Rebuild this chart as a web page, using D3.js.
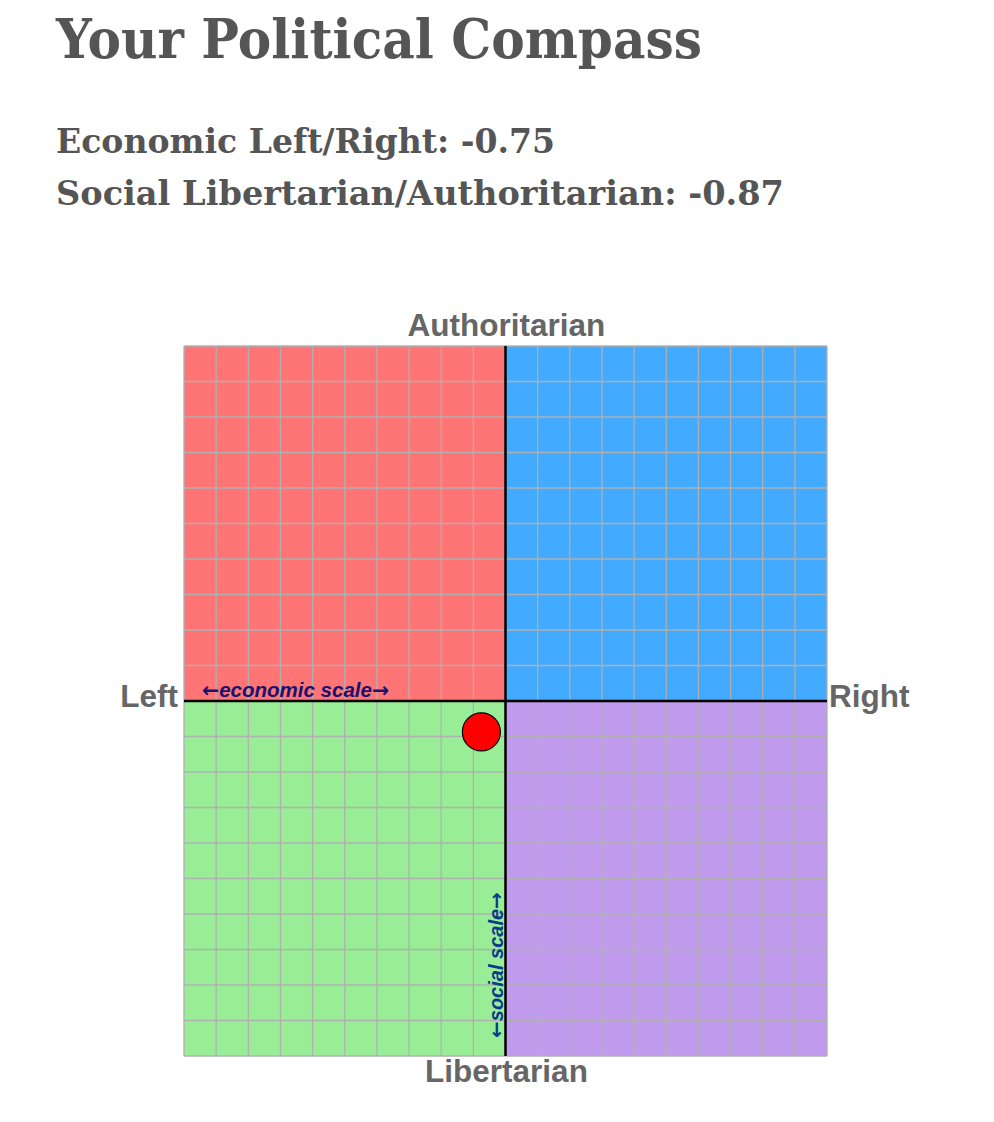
<!DOCTYPE html>
<html><head><meta charset="utf-8">
<script src="https://cdn.jsdelivr.net/npm/d3@7"></script>
<style>body{margin:0;background:#fff}</style>
</head><body>
<svg id="c" width="994" height="1122"></svg>
<script>
const title = "Your Political Compass";
const economicScore = -0.75;
const socialScore = -0.87;
const scoreLabels = ["Economic Left/Right: ", "Social Libertarian/Authoritarian: "];
const scoreValues = [economicScore, socialScore];
const quadrants = [
  {x0:-10, x1:0, y0:0, y1:10, color:"#ff7575"},
  {x0:0, x1:10, y0:0, y1:10, color:"#42aaff"},
  {x0:-10, x1:0, y0:-10, y1:0, color:"#9aed97"},
  {x0:0, x1:10, y0:-10, y1:0, color:"#c09aec"}
];
const gridTicks = d3.range(-10, 11, 1);
const axisLabels = {top:"Authoritarian", bottom:"Libertarian", left:"Left", right:"Right"};

const svg = d3.select("#c");
const x = d3.scaleLinear().domain([-10,10]).range([184,827]);
const y = d3.scaleLinear().domain([-10,10]).range([1056,346]);
const serif = "'DejaVu Serif','Liberation Serif',serif";
const sans = "'Liberation Sans',Arial,sans-serif";

svg.append("text").attr("x",56).attr("y",58)
  .attr("font-family",serif).attr("font-weight","bold")
  .attr("font-size",54).attr("fill","#555")
  .attr("textLength",646).attr("lengthAdjust","spacingAndGlyphs").text(title);

const scoreWidths = [499, 728];
svg.selectAll("text.score").data(scoreLabels).join("text").attr("class","score")
  .attr("x",56).attr("y",(d,i)=>153+i*52)
  .attr("font-family",serif).attr("font-weight","bold")
  .attr("font-size",34).attr("fill","#555")
  .attr("textLength",(d,i)=>scoreWidths[i]).attr("lengthAdjust","spacingAndGlyphs")
  .text((d,i)=>d + scoreValues[i].toFixed(2));

svg.selectAll("rect.q").data(quadrants).join("rect").attr("class","q")
  .attr("x",d=>x(d.x0)).attr("y",d=>y(d.y1))
  .attr("width",d=>x(d.x1)-x(d.x0)).attr("height",d=>y(d.y0)-y(d.y1))
  .attr("fill",d=>d.color);

svg.selectAll("line.v").data(gridTicks).join("line").attr("class","v")
  .attr("x1",d=>x(d)).attr("x2",d=>x(d)).attr("y1",y(10)).attr("y2",y(-10))
  .attr("stroke","#b0b0b0").attr("stroke-width",1.3);
svg.selectAll("line.h").data(gridTicks).join("line").attr("class","h")
  .attr("y1",d=>y(d)).attr("y2",d=>y(d)).attr("x1",x(-10)).attr("x2",x(10))
  .attr("stroke","#b0b0b0").attr("stroke-width",1.3);

svg.append("line").attr("x1",x(0)).attr("x2",x(0)).attr("y1",y(10)).attr("y2",y(-10))
  .attr("stroke","#000").attr("stroke-width",2.5);
svg.append("line").attr("y1",y(0)).attr("y2",y(0)).attr("x1",x(-10)).attr("x2",x(10))
  .attr("stroke","#000").attr("stroke-width",2.5);

const lab = (t, xx, yy, anchor) => svg.append("text").attr("x",xx).attr("y",yy)
  .attr("text-anchor",anchor).attr("font-family",sans)
  .attr("font-weight","bold").attr("font-size",31.5).attr("fill","#666").text(t);
lab(axisLabels.top, x(0)+1, 336, "middle");
lab(axisLabels.bottom, x(0)+1, 1082, "middle");
lab(axisLabels.left, 178, 707, "end");
lab(axisLabels.right, 829, 707, "start");

function scaleLabel(sel, word, color, size) {
  sel.attr("font-family",sans).attr("font-weight","bold")
    .attr("font-style","italic").attr("font-size",size).attr("fill",color);
  sel.append("tspan").attr("font-family","'DejaVu Sans',sans-serif").attr("font-style","normal").text("←");
  sel.append("tspan").text(word);
  sel.append("tspan").attr("font-family","'DejaVu Sans',sans-serif").attr("font-style","normal").text("→");
}
scaleLabel(svg.append("text").attr("x",202).attr("y",697), "economic scale", "#1a1070", 20.5);
scaleLabel(svg.append("text").attr("transform",`translate(${x(0)-3},1038) rotate(-90)`), "social scale", "#0a3a8c", 20);

svg.append("circle").attr("cx",x(economicScore)).attr("cy",y(socialScore)).attr("r",19)
  .attr("fill","#ff0000").attr("stroke","#000").attr("stroke-width",1.2);
</script>
</body></html>
